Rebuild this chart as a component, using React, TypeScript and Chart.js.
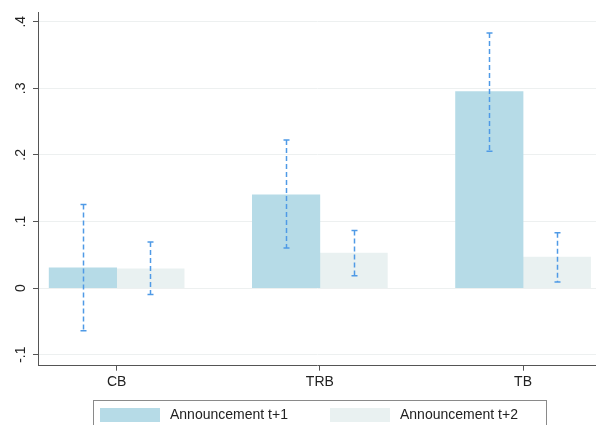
import React, { useEffect, useRef } from "react";
import { Chart, registerables } from "chart.js";

Chart.register(...registerables);

const categories = ["CB", "TRB", "TB"];
const seriesLabels = ["Announcement t+1", "Announcement t+2"];
const t1Values = [0.0305, 0.14, 0.295];
const t1Low = [-0.064, 0.06, 0.2055];
const t1High = [0.1255, 0.2225, 0.383];
const t2Values = [0.029, 0.0525, 0.0465];
const t2Low = [-0.0095, 0.0186, 0.009];
const t2High = [0.069, 0.0865, 0.083];
const yTickValues = [-0.1, 0, 0.1, 0.2, 0.3, 0.4];
const yTickLabels = ["-.1", "0", ".1", ".2", ".3", ".4"];

const FONT = "'Liberation Sans', Arial, Helvetica, sans-serif";
const C1 = "#b6dbe7";
const C2 = "#e9f1f1";
const ERR = "#4f9ae6";
const AXIS = "#555555";

const errorBarPlugin = {
  id: "errorBars",
  afterDatasetsDraw(chart: any) {
    const ctx = chart.ctx;
    const ys = chart.scales.y;
    chart.data.datasets.forEach((ds: any, di: number) => {
      const meta = chart.getDatasetMeta(di);
      meta.data.forEach((bar: any, i: number) => {
        const x = Math.round(bar.x) + 0.5;
        const yl = ys.getPixelForValue(ds.errLow[i]);
        const yh = ys.getPixelForValue(ds.errHigh[i]);
        ctx.save();
        ctx.strokeStyle = ERR;
        ctx.lineWidth = 1.5;
        ctx.setLineDash([5, 3]);
        ctx.beginPath();
        ctx.moveTo(x, yh);
        ctx.lineTo(x, yl);
        ctx.stroke();
        ctx.setLineDash([]);
        ctx.beginPath();
        ctx.moveTo(x - 3, yh);
        ctx.lineTo(x + 3, yh);
        ctx.moveTo(x - 3, yl);
        ctx.lineTo(x + 3, yl);
        ctx.stroke();
        ctx.restore();
      });
    });
  },
};

const boxLegendPlugin = {
  id: "boxLegend",
  afterDraw(chart: any) {
    const ctx = chart.ctx;
    ctx.save();
    ctx.strokeStyle = "#8a8a8a";
    ctx.lineWidth = 1;
    ctx.strokeRect(93.5, 400.5, 453, 40);
    const swatchX = [100, 330];
    const textX = [170, 400];
    chart.data.datasets.forEach((ds: any, i: number) => {
      ctx.fillStyle = ds.backgroundColor;
      ctx.fillRect(swatchX[i], 408, 60, 14);
      ctx.fillStyle = "#222222";
      ctx.font = `14px ${FONT}`;
      ctx.textBaseline = "middle";
      ctx.textAlign = "left";
      ctx.fillText(ds.label, textX[i], 415);
    });
    ctx.restore();
  },
};

export default function App() {
  const ref = useRef<HTMLCanvasElement>(null);
  useEffect(() => {
    if (!ref.current) return;
    const chart = new Chart(ref.current, {
      type: "bar",
      data: {
        datasets: [
          {
            label: seriesLabels[0],
            data: t1Values.map((v, i) => ({ x: i + 1, y: v })),
            backgroundColor: C1,
            borderWidth: 0,
            errLow: t1Low,
            errHigh: t1High,
          } as any,
          {
            label: seriesLabels[1],
            data: t2Values.map((v, i) => ({ x: i + 1, y: v })),
            backgroundColor: C2,
            borderWidth: 0,
            errLow: t2Low,
            errHigh: t2High,
          } as any,
        ],
      },
      options: {
        animation: false,
        responsive: false,
        barThickness: 67.5,
        layout: { padding: { top: 12, left: 0, right: 0, bottom: 0 } },
        plugins: {
          legend: { display: false },
          tooltip: { enabled: false },
        },
        scales: {
          x: {
            type: "linear",
            offset: false,
            min: 0.613,
            max: 3.359,
            afterBuildTicks: (s: any) => {
              s.ticks = categories.map((_, i) => ({ value: i + 1 }));
            },
            afterFit: (s: any) => {
              s.height = 59.3;
            },
            grid: {
              offset: false,
              drawOnChartArea: false,
              drawTicks: true,
              tickLength: 5,
              tickColor: AXIS,
            },
            border: { display: true, color: AXIS, width: 1 },
            ticks: {
              autoSkip: false,
              maxRotation: 0,
              padding: 3,
              color: "#222222",
              font: { family: FONT, size: 14 },
              callback: (v: any) => categories[Math.round(v) - 1] ?? "",
            },
          },
          y: {
            type: "linear",
            min: -0.1166,
            max: 0.414,
            afterBuildTicks: (s: any) => {
              s.ticks = yTickValues.map((v) => ({ value: v }));
            },
            afterFit: (s: any) => {
              s.width = 38;
            },
            grid: {
              color: "#edf0f0",
              drawTicks: true,
              tickLength: 5,
              tickColor: AXIS,
            },
            border: { display: true, color: AXIS, width: 1 },
            ticks: {
              minRotation: 90,
              maxRotation: 90,
              crossAlign: "center",
              padding: 4,
              color: "#222222",
              font: { family: FONT, size: 14 },
              callback: (_v: any, idx: number) => yTickLabels[idx],
            },
          },
        },
      } as any,
      plugins: [errorBarPlugin, boxLegendPlugin],
    });
    return () => chart.destroy();
  }, []);
  return (
    <div
      style={{
        position: "fixed",
        left: 0,
        top: 0,
        width: 596,
        height: 425,
        background: "#ffffff",
      }}
    >
      <canvas ref={ref} width={596} height={425} style={{ display: "block" }} />
    </div>
  );
}
